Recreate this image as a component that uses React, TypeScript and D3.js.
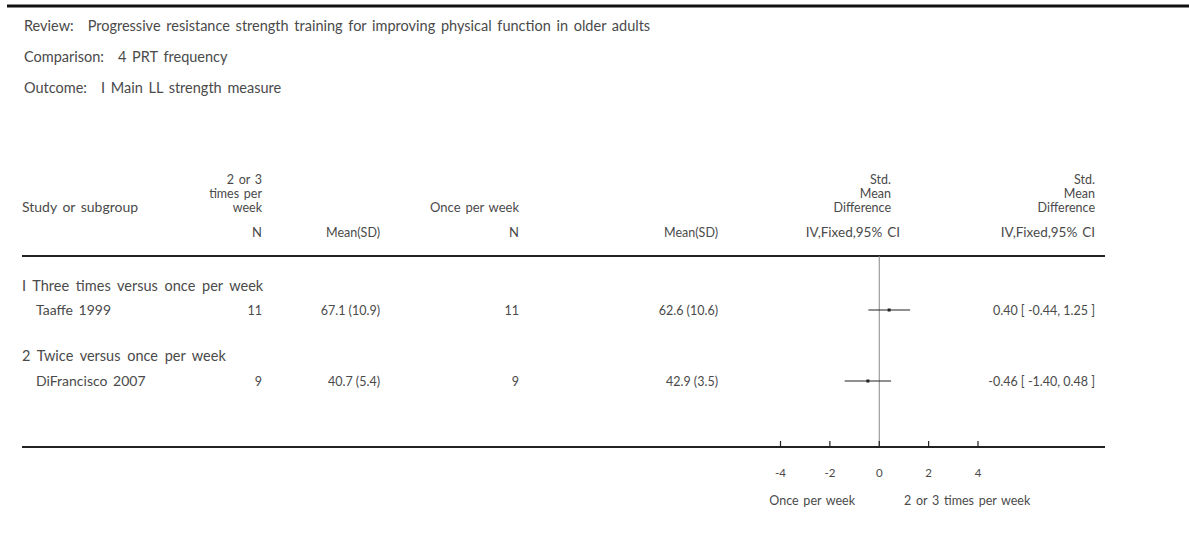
import React from 'react';
import * as d3 from 'd3';

const reviewTitle = 'Progressive resistance strength training for improving physical function in older adults';
const comparisonTitle = '4 PRT frequency';
const outcomeTitle = 'I Main LL strength measure';

const subgroups = ['I Three times versus once per week', '2 Twice versus once per week'];
const studies = ['Taaffe 1999', 'DiFrancisco 2007'];
const groupN1 = [11, 9];
const groupMean1 = ['67.1 (10.9)', '40.7 (5.4)'];
const groupN2 = [11, 9];
const groupMean2 = ['62.6 (10.6)', '42.9 (3.5)'];
const smd = [0.40, -0.46];
const ciLow = [-0.44, -1.40];
const ciHigh = [1.25, 0.48];
const tickValues = [-4, -2, 0, 2, 4];

const W = 1189;
const H = 539;
const font = "'Lato', 'Open Sans', sans-serif";
const textColor = '#4a4a4a';

const App: React.FC = () => {
  const x = d3.scaleLinear().domain([-4, 4]).range([780.5, 978]);

  const fmt = (v: number) => d3.format('.2f')(v).replace('−', '-');
  const ciText = (i: number) => `${fmt(smd[i])} [ ${fmt(ciLow[i])}, ${fmt(ciHigh[i])} ]`;

  const colN1 = 262;
  const colM1 = 380;
  const colN2 = 519;
  const colM2 = 718;
  const colPlot = 893;
  const colRight = 1095;

  const headerLineY = 256;
  const axisY = 447;
  const subgroupY = [291, 361];
  const studyY = [315, 386];
  const markY = [310, 381];

  const t = (props: any, s: string | number) => (
    <text fontFamily={font} fontSize={13} wordSpacing={1.5} fill={textColor} {...props}>{s}</text>
  );
  const num = (props: any, s: string | number) => (
    <text fontFamily={font} fontSize={12.5} fill={textColor} {...props}>{s}</text>
  );
  const meta = (y: number, label: string, value: string) => (
    <text x={24} y={y} fontFamily={font} fontSize={14.5} wordSpacing={2} fill={textColor}>
      {label}<tspan dx={14}>{value}</tspan>
    </text>
  );
  // stacked header cells (three lines, right aligned)
  const stack = (xr: number, lines: string[]) =>
    lines.map((l, k) => t({ key: l + xr, x: xr, y: 184 + k * 14, textAnchor: 'end', fontSize: 12.5 }, l));

  return (
    <svg width={W} height={H} style={{ position: 'absolute', left: 0, top: 0, background: '#fff' }}>
      <rect x={0} y={0} width={W} height={H} fill="#fff" />
      {/* top rule */}
      <line x1={7} x2={W} y1={6} y2={6} stroke="#111" strokeWidth={3} />

      {meta(31, 'Review:', reviewTitle)}
      {meta(62, 'Comparison:', comparisonTitle)}
      {meta(93, 'Outcome:', outcomeTitle)}

      {/* header */}
      {t({ x: 22, y: 212, fontSize: 14, wordSpacing: 2 }, 'Study or subgroup')}
      {stack(colN1, ['2 or 3', 'times per', 'week'])}
      {t({ x: colN2, y: 212, textAnchor: 'end' }, 'Once per week')}
      {t({ x: colN1, y: 237, textAnchor: 'end' }, 'N')}
      {t({ x: colM1, y: 237, textAnchor: 'end', fontSize: 12.5 }, 'Mean(SD)')}
      {t({ x: colN2, y: 237, textAnchor: 'end' }, 'N')}
      {t({ x: colM2, y: 237, textAnchor: 'end', fontSize: 12.5 }, 'Mean(SD)')}
      {stack(colPlot - 2, ['Std.', 'Mean', 'Difference'])}
      {t({ x: colPlot + 7, y: 237, textAnchor: 'end', fontSize: 13.5 }, 'IV,Fixed,95% CI')}
      {stack(colRight, ['Std.', 'Mean', 'Difference'])}
      {t({ x: colRight, y: 237, textAnchor: 'end', fontSize: 13.5 }, 'IV,Fixed,95% CI')}

      <line x1={22} x2={1105} y1={headerLineY} y2={headerLineY} stroke="#222" strokeWidth={2} />

      {/* zero line */}
      <line x1={x(0)} x2={x(0)} y1={headerLineY} y2={axisY} stroke="#888" strokeWidth={1} />

      {studies.map((s, i) => (
        <g key={s}>
          {t({ x: 22, y: subgroupY[i], fontSize: 14.5, wordSpacing: 3 }, subgroups[i])}
          {t({ x: 36, y: studyY[i], fontSize: 14, wordSpacing: 2 }, s)}
          {num({ x: colN1, y: studyY[i], textAnchor: 'end' }, groupN1[i])}
          {num({ x: colM1, y: studyY[i], textAnchor: 'end' }, groupMean1[i])}
          {num({ x: colN2, y: studyY[i], textAnchor: 'end' }, groupN2[i])}
          {num({ x: colM2, y: studyY[i], textAnchor: 'end' }, groupMean2[i])}
          {num({ x: colRight, y: studyY[i], textAnchor: 'end' }, ciText(i))}
          <line x1={x(ciLow[i])} x2={x(ciHigh[i])} y1={markY[i]} y2={markY[i]} stroke="#222" strokeWidth={1.2} />
          <rect x={x(smd[i]) - 1.5} y={markY[i] - 1.5} width={3} height={3} fill="#222" />
        </g>
      ))}

      {/* axis */}
      <line x1={22} x2={1105} y1={axisY} y2={axisY} stroke="#222" strokeWidth={2} />
      {tickValues.map(v => (
        <g key={v}>
          <line x1={x(v)} x2={x(v)} y1={axisY - 6} y2={axisY} stroke="#222" strokeWidth={1.2} />
          {num({ x: x(v), y: 477, textAnchor: 'middle', fontSize: 11.5 }, v < 0 ? `-${Math.abs(v)}` : v)}
        </g>
      ))}
      {t({ x: 855, y: 505, textAnchor: 'end', fontSize: 12.5, wordSpacing: 1.5 }, 'Once per week')}
      {t({ x: 904, y: 505, fontSize: 12.5, wordSpacing: 1.5 }, '2 or 3 times per week')}
    </svg>
  );
};

export default App;
